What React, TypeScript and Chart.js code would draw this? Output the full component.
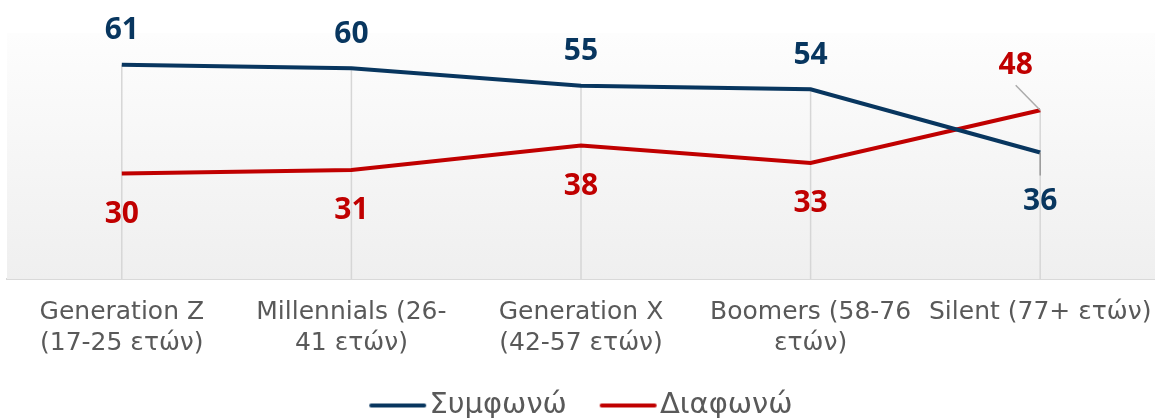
import React, { useEffect, useRef } from "react";
import { Chart, registerables } from "chart.js";

Chart.register(...registerables);

const categories: (string | string[])[] = [
  ["Generation Z", "(17-25 ετών)"],
  ["Millennials (26-", "41 ετών)"],
  ["Generation X", "(42-57 ετών)"],
  ["Boomers (58-76", "ετών)"],
  "Silent (77+ ετών)",
];
const agreeLabel = "Συμφωνώ";
const disagreeLabel = "Διαφωνώ";
const agreeValues = [61, 60, 55, 54, 36];
const disagreeValues = [30, 31, 38, 33, 48];

const BLUE = "#08365f";
const RED = "#c00000";
const FONT = "'DejaVu Sans', sans-serif";
const LABEL_FONT = "'Open Sans', sans-serif";
const LABEL_SIZE = 30;
const TICK_SIZE = 25;
const TICK_LINE = 31;
const TICK_PAD = 18;

function legendLine(color: string): HTMLCanvasElement {
  const c = document.createElement("canvas");
  c.width = 70;
  c.height = 6;
  const ctx = c.getContext("2d") as CanvasRenderingContext2D;
  ctx.strokeStyle = color;
  ctx.lineWidth = 4;
  ctx.lineCap = "round";
  ctx.beginPath();
  ctx.moveTo(14, 3);
  ctx.lineTo(67, 3);
  ctx.stroke();
  return c;
}

const bgPlugin = {
  id: "bgPlugin",
  beforeDatasetsDraw(chart: any) {
    const { ctx, chartArea } = chart;
    const g = ctx.createLinearGradient(0, chartArea.top, 0, chartArea.bottom);
    g.addColorStop(0, "#fdfdfd");
    g.addColorStop(1, "#efefef");
    ctx.save();
    ctx.fillStyle = g;
    ctx.fillRect(chartArea.left, chartArea.top, chartArea.right - chartArea.left, chartArea.bottom - chartArea.top);
    const m0 = chart.getDatasetMeta(0).data;
    const m1 = chart.getDatasetMeta(1).data;
    ctx.strokeStyle = "#d6d6d6";
    ctx.lineWidth = 1.5;
    for (let i = 0; i < m0.length; i++) {
      const top = Math.min(m0[i].y, m1[i].y);
      ctx.beginPath();
      ctx.moveTo(m0[i].x, top);
      ctx.lineTo(m0[i].x, chartArea.bottom);
      ctx.stroke();
    }
    ctx.restore();
  },
};

const labelPlugin = {
  id: "labelPlugin",
  afterDatasetsDraw(chart: any) {
    const { ctx } = chart;
    const m0 = chart.getDatasetMeta(0).data;
    const m1 = chart.getDatasetMeta(1).data;
    const d0 = chart.data.datasets[0].data as number[];
    const d1 = chart.data.datasets[1].data as number[];
    const baseAbove = d0[0] >= d1[0];
    const half = LABEL_SIZE * 0.714 / 2;
    ctx.save();
    ctx.font = `bold ${LABEL_SIZE}px ${LABEL_FONT}`;
    ctx.textAlign = "center";
    ctx.textBaseline = "alphabetic";
    const put = (t: string, x: number, cy: number, c: string) => {
      ctx.fillStyle = c;
      ctx.fillText(t, x, cy + half);
    };
    for (let i = 0; i < m0.length; i++) {
      const zeroAbove = d0[i] >= d1[i];
      const flipped = zeroAbove !== baseAbove;
      const items = [
        { p: m0[i], v: d0[i], c: BLUE, above: zeroAbove },
        { p: m1[i], v: d1[i], c: RED, above: !zeroAbove },
      ];
      for (const it of items) {
        if (!flipped) {
          put(String(it.v), it.p.x, it.p.y + (it.above ? -36 : 38.5), it.c);
        } else {
          ctx.lineWidth = 1.5;
          if (it.above) {
            const lx = it.p.x - 24.5;
            ctx.strokeStyle = "#ababab";
            ctx.beginPath();
            ctx.moveTo(lx, it.p.y - 25);
            ctx.lineTo(it.p.x, it.p.y);
            ctx.stroke();
            put(String(it.v), lx, it.p.y - 47, it.c);
          } else {
            ctx.strokeStyle = "#9a9a9a";
            ctx.beginPath();
            ctx.moveTo(it.p.x, it.p.y);
            ctx.lineTo(it.p.x, it.p.y + 23);
            ctx.stroke();
            put(String(it.v), it.p.x, it.p.y + 47, it.c);
          }
        }
      }
    }
    ctx.restore();
  },
};

export default function App() {
  const ref = useRef<HTMLCanvasElement>(null);
  useEffect(() => {
    document.body.style.margin = "0";
    const chart = new Chart(ref.current as HTMLCanvasElement, {
      type: "line",
      data: {
        labels: categories,
        datasets: [
          {
            label: agreeLabel,
            data: agreeValues,
            borderColor: BLUE,
            backgroundColor: BLUE,
            borderWidth: 4,
            pointRadius: 0,
            pointStyle: legendLine(BLUE) as any,
            tension: 0,
          },
          {
            label: disagreeLabel,
            data: disagreeValues,
            borderColor: RED,
            backgroundColor: RED,
            borderWidth: 4,
            pointRadius: 0,
            pointStyle: legendLine(RED) as any,
            tension: 0,
          },
        ],
      },
      options: {
        animation: false,
        responsive: false,
        layout: { padding: { top: 33, left: 7, right: 0, bottom: 0 } },
        plugins: {
          tooltip: { enabled: false },
          legend: {
            position: "bottom",
            maxHeight: 60,
            labels: {
              usePointStyle: true,
              pointStyleWidth: 45.5,
              padding: 33,
              color: "#595959",
              font: { family: FONT, size: 29 },
            },
          },
        },
        scales: {
          x: {
            offset: true,
            grid: { display: false, drawTicks: false },
            border: { color: "#d9d9d9", width: 2 },
            ticks: {
              color: "#595959",
              font: { family: FONT, size: TICK_SIZE, lineHeight: TICK_LINE / TICK_SIZE },
              padding: TICK_PAD,
              maxRotation: 0,
              autoSkip: false,
            },
            afterFit(s: any) {
              s.paddingLeft = 0;
              s.paddingRight = 0;
              s.height = TICK_PAD + 2 * TICK_LINE - 1;
            },
          },
          y: {
            display: false,
            min: 0,
            max: 70,
          },
        },
      },
      plugins: [bgPlugin, labelPlugin],
    });
    return () => chart.destroy();
  }, []);
  return <canvas ref={ref} width={1155} height={418} style={{ display: "block" }} />;
}
